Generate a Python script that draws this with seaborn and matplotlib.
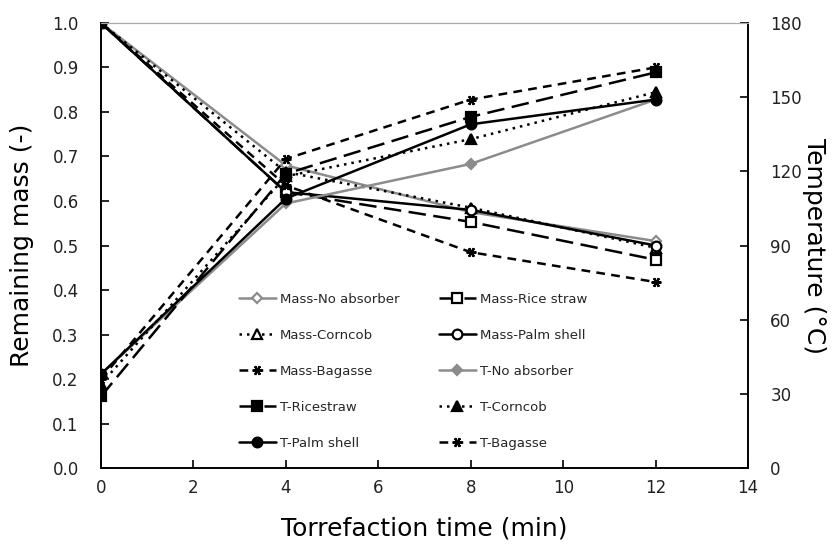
import matplotlib
matplotlib.use("Agg")
import matplotlib.pyplot as plt
import seaborn as sns
import pandas as pd

sns.set_style("ticks")
plt.rcParams["font.family"] = ["DejaVu Sans"]

# torrefaction time (min)
time = [0, 4, 8, 12]

# remaining mass (-)
mass_no = [1.0, 0.68, 0.575, 0.51]
mass_rice = [1.0, 0.62, 0.553, 0.468]
mass_corn = [1.0, 0.665, 0.585, 0.495]
mass_palm = [1.0, 0.62, 0.58, 0.50]
mass_bag = [1.0, 0.635, 0.485, 0.418]

# temperature (C)
t_no = [38, 107, 123, 149]
t_rice = [29, 119, 142, 160]
t_corn = [34, 118, 133, 152]
t_palm = [38, 109, 139, 149]
t_bag = [36, 125, 149, 162]

gray = "#8c8c8c"
long_dash = (0, (7, 3))
short_dash = (0, (3.5, 2.5))
dotted = (0, (1, 2))
ast = (6, 2, 90)

fig = plt.figure(figsize=(8.34, 5.45), dpi=100)
ax = fig.add_axes([0.121, 0.141, 0.776, 0.817])
ax2 = ax.twinx()

mass_series = [
    ("Mass-No absorber", mass_no, gray, "-", "D", "white"),
    ("Mass-Rice straw", mass_rice, "black", long_dash, "s", "white"),
    ("Mass-Corncob", mass_corn, "black", dotted, "^", "white"),
    ("Mass-Palm shell", mass_palm, "black", "-", "o", "white"),
    ("Mass-Bagasse", mass_bag, "black", short_dash, ast, "black"),
]
temp_series = [
    ("T-No absorber", t_no, gray, "-", "D", gray),
    ("T-Ricestraw", t_rice, "black", long_dash, "s", "black"),
    ("T-Corncob", t_corn, "black", dotted, "^", "black"),
    ("T-Palm shell", t_palm, "black", "-", "o", "black"),
    ("T-Bagasse", t_bag, "black", short_dash, ast, "black"),
]

handles = {}
for name, vals, col, ls, mk, fc in mass_series:
    df = pd.DataFrame({"time": time, "val": vals})
    sns.lineplot(data=df, x="time", y="val", ax=ax, color=col, linestyle=ls,
                 marker=mk, markerfacecolor=fc, markeredgecolor=col,
                 markersize=7 if mk != "D" else 5.5, markeredgewidth=1.6,
                 linewidth=1.8)
    handles[name] = ax.lines[-1]

for name, vals, col, ls, mk, fc in temp_series:
    df = pd.DataFrame({"time": time, "val": vals})
    sns.lineplot(data=df, x="time", y="val", ax=ax2, color=col, linestyle=ls,
                 marker=mk, markerfacecolor=fc, markeredgecolor=col,
                 markersize=7 if mk != "D" else 5.5, markeredgewidth=1.6,
                 linewidth=1.8)
    handles[name] = ax2.lines[-1]

ax.set_xlim(0, 14)
ax.set_ylim(0, 1.0)
ax2.set_ylim(0, 180)
ax.set_xticks(range(0, 15, 2))
ax.set_yticks([i / 10 for i in range(11)])
ax.set_yticklabels([f"{i / 10:.1f}" for i in range(11)])
ax2.set_yticks(range(0, 181, 30))

for a in (ax, ax2):
    a.tick_params(direction="in", length=6, width=1.2, labelsize=12,
                  colors="black", labelcolor="#222222", pad=16)
    for s in a.spines.values():
        s.set_linewidth(1.2)
        s.set_color("black")
    a.spines["top"].set_visible(True)
    a.spines["top"].set_color("#aaaaaa")
    a.spines["top"].set_linewidth(0.8)
ax.spines["right"].set_visible(True)
ax.tick_params(axis="x", pad=8)

ax.set_xlabel("Torrefaction time (min)", fontsize=18, labelpad=14, color="black")
ax.set_ylabel("Remaining mass (-)", fontsize=18, labelpad=13, color="black")
ax2.set_ylabel("Temperature (\u00b0C)", fontsize=18, rotation=-90, labelpad=17,
               color="black")

order = ["Mass-No absorber", "Mass-Corncob", "Mass-Bagasse", "T-Ricestraw",
         "T-Palm shell", "Mass-Rice straw", "Mass-Palm shell", "T-No absorber",
         "T-Corncob", "T-Bagasse"]
leg = ax2.legend([handles[n] for n in order], order, ncol=2, frameon=False,
                 loc="upper left", bbox_to_anchor=(0.272, 0.485),
                 bbox_transform=fig.transFigure, fontsize=9.5,
                 labelspacing=1.75, columnspacing=3.0, handlelength=2.8,
                 handletextpad=0.3)

fig.savefig("out.png", dpi=100)
